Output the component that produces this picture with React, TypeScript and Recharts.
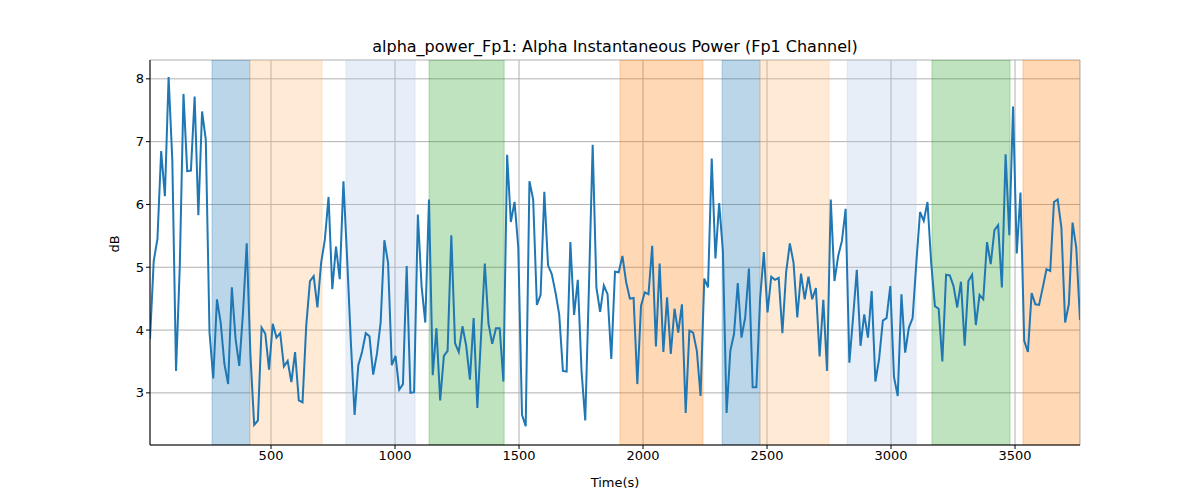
import React from "react";
import { ComposedChart, Line, XAxis, YAxis, CartesianGrid, ReferenceArea } from "recharts";

const values: number[] = [
3.86,5.1,5.45,6.85,6.13,8.03,6.7,3.35,5.0,7.76,6.53,6.54,7.72,5.83,7.48,7.03,3.96,3.23,4.49,4.12,3.46,3.14,4.68,3.86,3.43,4.28,5.38,3.6,2.49,2.56,4.04,3.94,3.37,4.1,3.88,3.95,3.42,3.51,3.17,3.65,2.88,2.85,4.07,4.78,4.86,4.36,5.07,5.44,6.12,4.65,5.33,4.81,6.37,5.13,3.8,2.65,3.44,3.65,3.95,3.9,3.29,3.62,4.12,5.43,5.07,
3.44,3.59,3.05,3.14,5.02,3.0,3.01,5.84,4.7,4.12,6.08,3.28,4.03,2.88,3.59,3.67,5.51,3.79,3.65,4.06,3.75,3.21,4.19,2.76,3.91,5.06,4.1,3.78,4.03,4.03,3.18,6.79,5.72,6.04,5.31,2.65,2.47,6.37,6.08,4.4,4.56,6.2,5.03,4.89,4.6,4.25,3.35,3.34,5.4,4.24,4.8,3.35,2.56,4.7,6.95,4.68,4.29,4.71,4.57,3.54,4.93,4.92,
5.18,4.76,4.5,4.51,3.14,4.39,4.6,4.57,5.34,3.74,5.06,3.65,4.52,3.62,4.34,3.96,4.41,2.68,3.99,3.96,3.67,2.95,4.82,4.68,6.73,5.14,6.02,5.26,2.68,3.67,3.94,4.75,3.88,4.2,4.98,3.09,3.09,4.49,5.24,4.28,4.85,4.8,4.83,3.95,4.92,5.38,5.07,4.2,4.9,4.49,4.85,4.49,4.67,3.58,4.48,3.35,6.08,4.78,5.18,5.42,5.93,3.48,
4.2,4.96,3.75,4.25,3.88,4.62,3.18,3.54,4.15,4.19,4.7,3.25,2.95,4.57,3.64,4.04,4.19,5.07,5.88,5.74,6.04,5.07,4.38,4.34,3.5,4.88,4.87,4.7,4.36,4.77,3.75,4.78,4.88,4.08,4.56,4.49,5.4,5.05,5.59,5.67,4.68,6.8,5.51,7.56,5.22,6.19,3.83,3.65,4.59,4.41,4.4,4.68,4.97,4.94,6.04,6.08,5.63,4.12,4.41,5.71,5.31,4.16,
];

const tStart = 12;
const tEnd = 3762;
const xTicks = [500, 1000, 1500, 2000, 2500, 3000, 3500];
const yTicks = [3, 4, 5, 6, 7, 8];

const bandStarts = [262, 415, 802, 1137, 1907, 2319, 2472, 2823, 3165, 3532];
const bandEnds = [415, 706, 1081, 1440, 2242, 2472, 2750, 3101, 3480, 3762];
const bandColors = ["#1f77b4", "#ffbb78", "#aec7e8", "#2ca02c", "#ff7f0e", "#1f77b4", "#ffbb78", "#aec7e8", "#2ca02c", "#ff7f0e"];

const data = values.map((v, i) => ({ t: tStart + (i * (tEnd - tStart)) / (values.length - 1), v }));

const font = "DejaVu Sans";

export default function App() {
  return (
    <div style={{ position: "absolute", left: 0, top: 0, width: 1200, height: 500, background: "#fff" }}>
      <ComposedChart width={1200} height={500} data={data} margin={{ top: 60, right: 120, bottom: 25, left: 90 }}>
        <CartesianGrid stroke="#b0b0b0" strokeWidth={1} vertical horizontal />
        {bandStarts.map((s, i) => (
          <ReferenceArea key={i} x1={s} x2={bandEnds[i]} fill={bandColors[i]} fillOpacity={0.3} stroke={bandColors[i]} strokeOpacity={0.3} ifOverflow="hidden" />
        ))}
        <XAxis dataKey="t" type="number" domain={[tStart, tEnd]} ticks={xTicks} allowDataOverflow height={30}
          tick={{ fill: "#000", fontSize: 13, fontFamily: font }} tickLine={{ stroke: "#000" }} tickSize={4} axisLine={{ stroke: "#000" }}
          label={{ value: "Time(s)", position: "insideBottom", offset: -12, fill: "#000", fontSize: 13, fontFamily: font }} />
        <XAxis xAxisId="top" orientation="top" dataKey="t" type="number" domain={[tStart, tEnd]} tick={false} tickLine={false} axisLine={{ stroke: "#000" }} height={0} />
        <YAxis type="number" domain={[2.17, 8.3]} ticks={yTicks} allowDataOverflow width={60}
          tick={{ fill: "#000", fontSize: 13, fontFamily: font }} tickLine={{ stroke: "#000" }} tickSize={4} axisLine={{ stroke: "#000" }}
          label={{ value: "dB", angle: -90, position: "insideLeft", offset: 24, fill: "#000", fontSize: 13, fontFamily: font }} />
        <YAxis yAxisId="right" orientation="right" domain={[2.17, 8.3]} tick={false} tickLine={false} axisLine={{ stroke: "#000" }} width={0} />
        <Line dataKey="v" stroke="#1f77b4" strokeWidth={2} dot={false} isAnimationActive={false} />
        <text x={615} y={52} textAnchor="middle" fontSize={16} fontFamily={font} fill="#000">
          alpha_power_Fp1: Alpha Instantaneous Power (Fp1 Channel)
        </text>
      </ComposedChart>
    </div>
  );
}
